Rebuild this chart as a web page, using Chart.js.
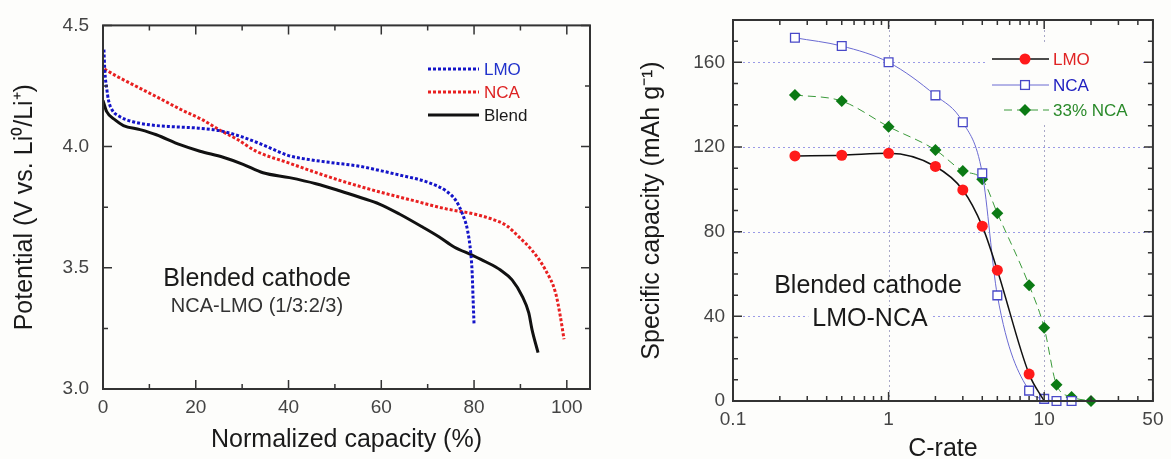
<!DOCTYPE html>
<html>
<head>
<meta charset="utf-8">
<script src="https://cdn.jsdelivr.net/npm/chart.js@4/dist/chart.umd.min.js"></script>
<style>
  html, body { margin: 0; padding: 0; background: #fdfdfb; overflow: hidden; }
  #wrap { position: relative; width: 1171px; height: 459px; }
  canvas { position: absolute; top: 0; }
</style>
</head>
<body>
<div id="wrap">
  <canvas id="left" width="600" height="459" style="left:0;width:600px;height:459px"></canvas>
  <canvas id="right" width="571" height="459" style="left:600px;width:571px;height:459px"></canvas>
</div>
<script>
// ---------- LEFT CHART DATA: discharge curves ----------
const lmoCap = [0.2, 0.4, 0.8, 1.2, 2, 3.5, 6, 10, 15, 20, 25, 30, 35, 40, 45, 50, 55, 60, 65, 68, 70.3, 73.9, 76.1, 77.5, 78.6, 79.3, 79.6, 79.8, 80.0];
const lmoV   = [4.40, 4.31, 4.24, 4.19, 4.15, 4.125, 4.105, 4.09, 4.082, 4.077, 4.066, 4.04, 4.003, 3.963, 3.945, 3.932, 3.92, 3.90, 3.878, 3.865, 3.851, 3.818, 3.777, 3.722, 3.654, 3.559, 3.477, 3.368, 3.266];
const ncaCap = [0.3, 3, 6, 11.5, 17, 21.5, 25, 29, 33, 40, 47, 52, 60, 67, 74, 80, 84, 87, 89.7, 92.5, 95.4, 97.6, 98.6, 99.4];
const ncaV   = [4.32, 4.29, 4.26, 4.206, 4.151, 4.11, 4.07, 4.029, 3.981, 3.933, 3.886, 3.855, 3.811, 3.777, 3.743, 3.722, 3.70, 3.674, 3.627, 3.572, 3.491, 3.395, 3.30, 3.205];
const blendCap = [0, 0.8, 2.6, 4.4, 8, 11.5, 16.6, 20.9, 25.9, 30.2, 34.5, 40.2, 45.9, 51, 55.5, 59.6, 63.9, 68.9, 72.5, 75.7, 79.6, 82.5, 85.7, 88.2, 90.4, 91.8, 92.5, 93.8];
const blendV   = [4.19, 4.144, 4.11, 4.087, 4.07, 4.049, 4.008, 3.981, 3.956, 3.927, 3.892, 3.872, 3.847, 3.818, 3.79, 3.763, 3.722, 3.668, 3.627, 3.586, 3.552, 3.525, 3.491, 3.45, 3.382, 3.314, 3.245, 3.15];
const leftXTicks = [0, 20, 40, 60, 80, 100];
const leftXMinor = [10, 30, 50, 70, 90];
const leftYTicks = [3.0, 3.5, 4.0, 4.5];
const leftYMinor = [3.25, 3.75, 4.25];
const leftLegend = ['LMO', 'NCA', 'Blend'];

// ---------- RIGHT CHART DATA: rate capability ----------
const rateLmo = [0.25, 0.5, 1, 2, 3, 4, 5, 8, 10];
const capLmo  = [115.8, 116.1, 117, 110.8, 99.7, 82.6, 61.8, 12.7, 0];
const rateNca = [0.25, 0.5, 1, 2, 3, 4, 5, 8, 10, 12, 15];
const capNca  = [171.6, 167.7, 160, 144.4, 131.7, 107.6, 49.9, 4.9, 1, 0, 0];
const rateBlend = [0.25, 0.5, 1, 2, 3, 4, 5, 8, 10, 12, 15, 20];
const capBlend  = [144.6, 141.7, 129.6, 118.6, 108.7, 104.8, 88.7, 54.7, 34.6, 7.7, 1.9, 0];
const rightXTicks = [0.1, 1, 10, 50];
const rightXTickLabels = ['0.1', '1', '10', '50'];
const rightXMinor = [0.2, 0.3, 0.4, 0.5, 0.6, 0.7, 0.8, 0.9, 2, 3, 4, 5, 6, 7, 8, 9, 20, 30, 40];
const rightYTicks = [0, 40, 80, 120, 160];
const rightYMinor = [10, 20, 30, 50, 60, 70, 90, 100, 110, 130, 140, 150, 170];
const rightHGrid = [40, 80, 120, 160];
const rightVGrid = [1, 10];
const rightLegend = ['LMO', 'NCA', '33% NCA'];

const FONT = "'Liberation Sans', Arial, Helvetica, sans-serif";
const pts = (xs, ys) => xs.map((x, i) => ({x: x, y: ys[i]}));

function frameTicksPlugin(cfg) {
  return {
    id: 'frameTicks_' + cfg.name,
    beforeDatasetsDraw(chart) {
      const ctx = chart.ctx, a = chart.chartArea;
      const xs = chart.scales.x, ys = chart.scales.y;
      ctx.save();
      ctx.lineWidth = 1;
      ctx.setLineDash([2, 3]);
      (cfg.hGrid || []).forEach(v => {
        const y = Math.round(ys.getPixelForValue(v)) + 0.5;
        ctx.strokeStyle = '#9a9ae6';
        ctx.beginPath(); ctx.moveTo(a.left, y); ctx.lineTo(a.right, y); ctx.stroke();
      });
      (cfg.vGrid || []).forEach(v => {
        const x = Math.round(xs.getPixelForValue(v)) + 0.5;
        ctx.strokeStyle = '#a8a8c8';
        ctx.beginPath(); ctx.moveTo(x, a.top); ctx.lineTo(x, a.bottom); ctx.stroke();
      });
      ctx.restore();
      if (cfg.beforeData) cfg.beforeData(chart);
    },
    afterDatasetsDraw(chart) {
      const ctx = chart.ctx, a = chart.chartArea;
      const xs = chart.scales.x, ys = chart.scales.y;
      ctx.save();
      ctx.setLineDash([]);
      ctx.strokeStyle = '#333';
      ctx.lineWidth = 1.5;
      const tick = (vals, len, horiz) => {
        vals.forEach(v => {
          if (horiz) {
            const x = xs.getPixelForValue(v);
            ctx.beginPath();
            ctx.moveTo(x, a.bottom); ctx.lineTo(x, a.bottom - len);
            ctx.moveTo(x, a.top); ctx.lineTo(x, a.top + len);
            ctx.stroke();
          } else {
            const y = ys.getPixelForValue(v);
            ctx.beginPath();
            ctx.moveTo(a.left, y); ctx.lineTo(a.left + len, y);
            ctx.moveTo(a.right, y); ctx.lineTo(a.right - len, y);
            ctx.stroke();
          }
        });
      };
      tick(cfg.xMajor, 9, true);
      tick(cfg.xMinor, 5, true);
      tick(cfg.yMajor, 9, false);
      tick(cfg.yMinor, 5, false);
      ctx.lineWidth = 2;
      ctx.strokeRect(a.left, a.top, a.right - a.left, a.bottom - a.top);
      ctx.restore();
      if (cfg.afterData) cfg.afterData(chart);
    }
  };
}

// ================= LEFT CHART =================
const leftColors = ['#1414c8', '#e82020', '#111111'];
new Chart(document.getElementById('left'), {
  type: 'line',
  data: {
    datasets: [
      { label: leftLegend[0], data: pts(lmoCap, lmoV), borderColor: leftColors[0], borderWidth: 3, borderDash: [3, 2], pointRadius: 0, cubicInterpolationMode: 'monotone', fill: false },
      { label: leftLegend[1], data: pts(ncaCap, ncaV), borderColor: leftColors[1], borderWidth: 3, borderDash: [3, 2], pointRadius: 0, cubicInterpolationMode: 'monotone', fill: false },
      { label: leftLegend[2], data: pts(blendCap, blendV), borderColor: leftColors[2], borderWidth: 3, pointRadius: 0, cubicInterpolationMode: 'monotone', fill: false }
    ]
  },
  options: {
    responsive: false, animation: false, devicePixelRatio: 1,
    layout: { padding: { left: 0, right: 10, top: 23, bottom: 0 } },
    plugins: { legend: { display: false }, tooltip: { enabled: false } },
    scales: {
      x: {
        type: 'linear', min: 0, max: 105,
        afterBuildTicks: s => { s.ticks = leftXTicks.map(v => ({ value: v })); },
        afterFit: s => { s.height = 70; },
        grid: { display: false, drawTicks: false }, border: { display: false },
        ticks: { padding: 7.5, color: '#444', font: { family: FONT, size: 19 }, maxRotation: 0 },
        title: { display: true, text: 'Normalized capacity (%)', color: '#1a1a1a', font: { family: FONT, size: 25 }, padding: { top: 0, bottom: 4 } }
      },
      y: {
        type: 'linear', min: 3.0, max: 4.5,
        afterBuildTicks: s => { s.ticks = leftYTicks.map(v => ({ value: v })); },
        afterFit: s => { s.width = 103; },
        grid: { display: false, drawTicks: false }, border: { display: false },
        ticks: { padding: 14, color: '#444', font: { family: FONT, size: 19 }, callback: v => Number(v).toFixed(1) },
        title: { display: true, text: 'Potential (V vs. Li⁰/Li⁺)', color: '#1a1a1a', font: { family: FONT, size: 25 }, padding: { top: 10, bottom: 0 } }
      }
    }
  },
  plugins: [frameTicksPlugin({
    name: 'L', xMajor: leftXTicks, xMinor: leftXMinor, yMajor: leftYTicks, yMinor: leftYMinor,
    afterData(chart) {
      const ctx = chart.ctx;
      ctx.save();
      // legend
      const rows = [69, 92, 115];
      leftLegend.forEach((name, i) => {
        ctx.strokeStyle = leftColors[i];
        ctx.lineWidth = 3;
        ctx.setLineDash(i < 2 ? [3, 2] : []);
        ctx.beginPath(); ctx.moveTo(428, rows[i]); ctx.lineTo(479, rows[i]); ctx.stroke();
        ctx.setLineDash([]);
        ctx.fillStyle = i === 0 ? '#2233cc' : (i === 1 ? '#dd2222' : '#1a1a1a');
        ctx.font = '17px ' + FONT;
        ctx.textAlign = 'left'; ctx.textBaseline = 'middle';
        ctx.fillText(name, 484, rows[i] + 1);
      });
      // annotation
      ctx.textAlign = 'center'; ctx.textBaseline = 'middle';
      ctx.fillStyle = '#1a1a1a';
      ctx.font = '25px ' + FONT;
      ctx.fillText('Blended cathode', 257, 279);
      ctx.fillStyle = '#333';
      ctx.font = '20px ' + FONT;
      ctx.fillText('NCA-LMO (1/3:2/3)', 257, 306);
      ctx.restore();
    }
  })]
});

// ================= RIGHT CHART =================
new Chart(document.getElementById('right'), {
  type: 'line',
  data: {
    datasets: [
      { label: rightLegend[0], data: pts(rateLmo, capLmo), borderColor: '#111', borderWidth: 1.5, cubicInterpolationMode: 'monotone',
        pointStyle: 'circle', pointRadius: rateLmo.map((r, i) => i === rateLmo.length - 1 ? 0 : 5.5), pointBackgroundColor: '#ff1a1a', pointBorderColor: '#ff1a1a', pointBorderWidth: 0, clip: false, order: 1 },
      { label: rightLegend[1], data: pts(rateNca, capNca), borderColor: '#6a6ad2', borderWidth: 1, cubicInterpolationMode: 'monotone',
        pointStyle: 'rect', pointRadius: 6.2, pointBackgroundColor: '#ffffff', pointBorderColor: '#4848c8', pointBorderWidth: 1.3, clip: false, order: 2 },
      { label: rightLegend[2], data: pts(rateBlend, capBlend), borderColor: '#3a9a3a', borderWidth: 1, borderDash: [8, 5], cubicInterpolationMode: 'monotone',
        pointStyle: 'rectRot', pointRadius: 6, pointBackgroundColor: '#0b7a14', pointBorderColor: '#0b7a14', pointBorderWidth: 0, clip: false, order: 3 }
    ]
  },
  options: {
    responsive: false, animation: false, devicePixelRatio: 1,
    layout: { padding: { left: 0, right: 16, top: 20, bottom: 0 } },
    plugins: { legend: { display: false }, tooltip: { enabled: false } },
    scales: {
      x: {
        type: 'logarithmic', min: 0.1, max: 50,
        afterBuildTicks: s => { s.ticks = rightXTicks.map(v => ({ value: v })); },
        afterFit: s => { s.height = 58; },
        grid: { display: false, drawTicks: false }, border: { display: false },
        ticks: { padding: 7.5, color: '#444', font: { family: FONT, size: 19 }, maxRotation: 0,
                 callback: (v, i) => rightXTickLabels[i] },
        title: { display: true, text: 'C-rate', color: '#1a1a1a', font: { family: FONT, size: 25, lineHeight: 0.8 }, padding: { top: 0, bottom: 0 } }
      },
      y: {
        type: 'linear', min: 0, max: 180,
        afterBuildTicks: s => { s.ticks = rightYTicks.map(v => ({ value: v })); },
        afterFit: s => { s.width = 133; },
        grid: { display: false, drawTicks: false }, border: { display: false },
        ticks: { padding: 8, color: '#444', font: { family: FONT, size: 19 } },
        title: { display: true, text: 'Specific capacity (mAh g⁻¹)', color: '#1a1a1a', font: { family: FONT, size: 25 }, padding: { top: 37, bottom: 0 } }
      }
    }
  },
  plugins: [frameTicksPlugin({
    name: 'R', xMajor: rightXTicks, xMinor: rightXMinor, yMajor: rightYTicks, yMinor: rightYMinor,
    hGrid: rightHGrid, vGrid: rightVGrid,
    beforeData(chart) {
      const ctx = chart.ctx;
      ctx.save();
      ctx.fillStyle = '#fdfdfb';
      // white boxes behind legend and annotation
      ctx.fillRect(388, 45, 152, 80);
      ctx.font = '25px ' + FONT;
      const w2 = ctx.measureText('LMO-NCA').width;
      ctx.fillRect(270 - w2 / 2 - 4, 318 - 12, w2 + 8, 24);
      ctx.textAlign = 'center'; ctx.textBaseline = 'middle';
      ctx.fillStyle = '#1a1a1a';
      ctx.fillText('Blended cathode', 268, 286);
      ctx.fillText('LMO-NCA', 270, 319);
      ctx.restore();
    },
    afterData(chart) {
      const ctx = chart.ctx;
      ctx.save();
      const rows = [59, 85, 110];
      const lx0 = 400, lx1 = 449, mx = 425, tx = 453;
      // LMO
      ctx.strokeStyle = '#111'; ctx.lineWidth = 1.5;
      ctx.beginPath(); ctx.moveTo(lx0 - 8, rows[0]); ctx.lineTo(lx1, rows[0]); ctx.stroke();
      ctx.fillStyle = '#ff1a1a';
      ctx.beginPath(); ctx.arc(mx, rows[0], 5.5, 0, Math.PI * 2); ctx.fill();
      // NCA
      ctx.strokeStyle = '#6a6ad2'; ctx.lineWidth = 1;
      ctx.beginPath(); ctx.moveTo(lx0 - 8, rows[1]); ctx.lineTo(lx1, rows[1]); ctx.stroke();
      ctx.fillStyle = '#fff'; ctx.strokeStyle = '#4848c8'; ctx.lineWidth = 1.3;
      ctx.fillRect(mx - 4.4, rows[1] - 4.4, 8.8, 8.8);
      ctx.strokeRect(mx - 4.4, rows[1] - 4.4, 8.8, 8.8);
      // 33% NCA
      ctx.strokeStyle = '#3a9a3a'; ctx.lineWidth = 1; ctx.setLineDash([8, 5]);
      ctx.beginPath(); ctx.moveTo(lx0 + 4, rows[2]); ctx.lineTo(lx1, rows[2]); ctx.stroke();
      ctx.setLineDash([]);
      ctx.fillStyle = '#0b7a14';
      ctx.beginPath();
      ctx.moveTo(mx, rows[2] - 6); ctx.lineTo(mx + 6, rows[2]); ctx.lineTo(mx, rows[2] + 6); ctx.lineTo(mx - 6, rows[2]);
      ctx.closePath(); ctx.fill();
      // texts
      ctx.font = '17px ' + FONT;
      ctx.textAlign = 'left'; ctx.textBaseline = 'middle';
      const tc = ['#e02424', '#2020c0', '#2a8a2a'];
      rightLegend.forEach((name, i) => { ctx.fillStyle = tc[i]; ctx.fillText(name, tx, rows[i] + 1); });
      ctx.restore();
    }
  })]
});
</script>
</body>
</html>
